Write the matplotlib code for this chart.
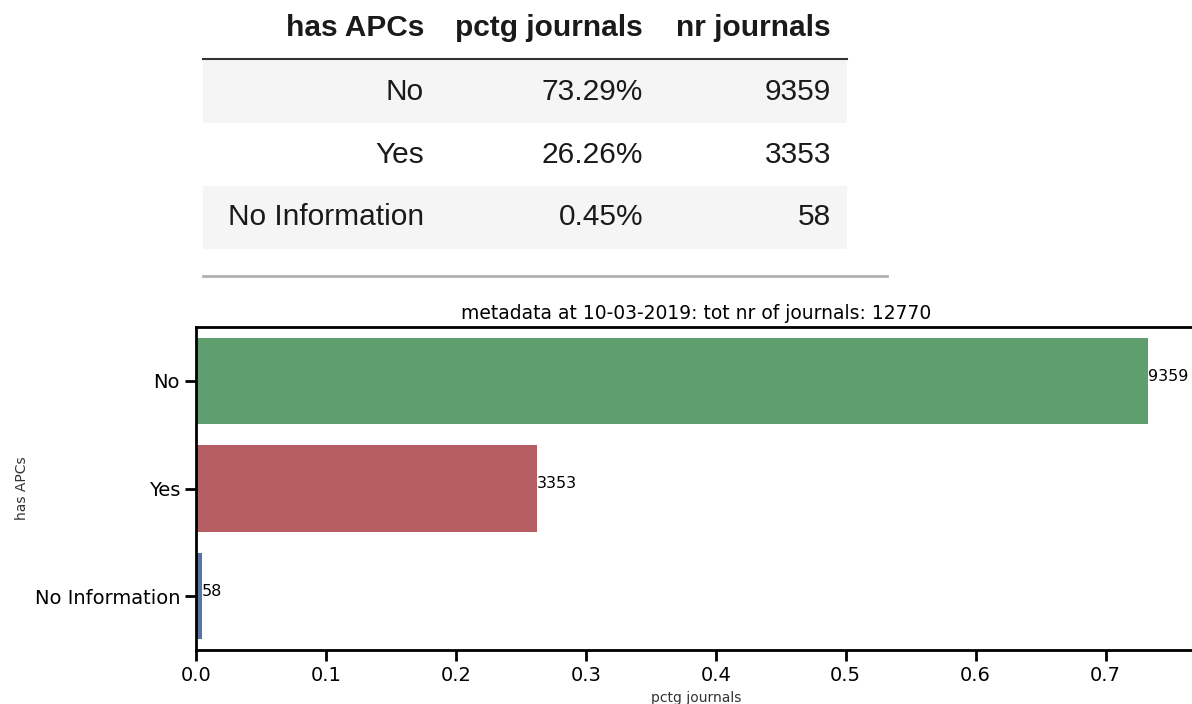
import numpy as np
import matplotlib.pyplot as plt
from matplotlib.patches import Rectangle

# data
categories = ['No', 'Yes', 'No Information']
nr_journals = [9359, 3353, 58]
pctg_journals = [0.7329, 0.2626, 0.0045]
pctg_labels = ['73.29%', '26.26%', '0.45%']
total = 12770
date = '10-03-2019'
colors = ['#5f9e6e', '#b55d60', '#5975a4']

fig = plt.figure(figsize=(11.92, 7.04), dpi=100)

# ---------------- table drawn in pixel coords ----------------
tab = fig.add_axes([0, 0, 1, 1])
tab.set_xlim(0, 1192)
tab.set_ylim(704, 0)
tab.axis('off')
tab.patch.set_visible(False)

tfont = dict(family='Liberation Sans', fontsize=21.5, color='#1a1a1a')
col_right = [424, 643, 831]
headers = ['has APCs', 'pctg journals', 'nr journals']
for x, h in zip(col_right, headers):
    tab.text(x, 28, h, ha='right', va='center', fontweight='bold', **tfont)
tab.plot([203, 847], [59, 59], color='#333333', lw=1.5)

row_y = [92, 155, 217]
row_top = [60, 122, 186]
for i, (cat, p, n) in enumerate(zip(categories, pctg_labels, nr_journals)):
    if i % 2 == 0:
        tab.add_patch(Rectangle((203, row_top[i]), 644, 63, color='#f5f5f5', lw=0, zorder=0))
    tab.text(col_right[0], row_y[i], cat, ha='right', va='center', **tfont)
    tab.text(col_right[1], row_y[i], p, ha='right', va='center', **tfont)
    tab.text(col_right[2], row_y[i], str(n), ha='right', va='center', **tfont)
tab.plot([203, 887], [276, 276], color='#b0b0b0', lw=2)

# ---------------- bar chart ----------------
ax = fig.add_axes([196/1192, 1-650/704, 1000/1192, 323/704])
ypos = np.arange(len(categories))
bars = ax.barh(ypos, pctg_journals, height=0.8, color=colors)
ax.set_ylim(2.5, -0.5)
ax.set_xlim(0, max(pctg_journals)*1.05)
ax.set_yticks(ypos)
ax.set_yticklabels(categories)
ax.set_xticks(np.arange(0, 0.8, 0.1))
ax.tick_params('both', length=8, width=2, labelsize=14)
for s in ax.spines.values():
    s.set_linewidth(2)
for b, n in zip(bars, nr_journals):
    ax.text(b.get_width(), b.get_y()+b.get_height()/2, str(n), fontsize=11.5, va='baseline', ha='left')
ax.set_title('metadata at %s: tot nr of journals: %d' % (date, total), fontsize=13.5)
ax.set_xlabel('pctg journals', fontsize=10, color='#333333')
ax.set_ylabel('has APCs', fontsize=10, color='#333333')

plt.savefig('out.png', dpi=100)
